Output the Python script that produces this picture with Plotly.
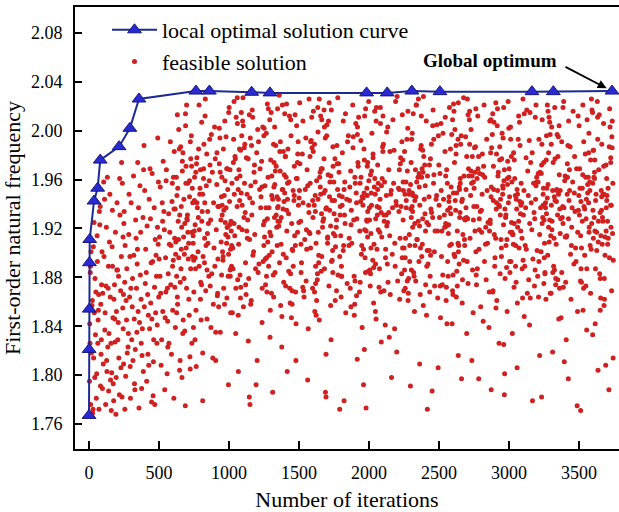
import plotly.graph_objects as go

# ---------------- data ----------------
# local optimal solution curve (iteration, first-order natural frequency)
opt_iter = [0, 1, 2, 3, 5, 36, 62, 80, 215, 292, 357, 764, 860, 1162, 1293,
            1983, 2130, 2306, 2507, 3164, 3317, 3736]
opt_freq = [1.767, 1.821, 1.854, 1.892, 1.911, 1.9425, 1.953, 1.976, 1.987,
            2.002, 2.026, 2.0325, 2.0325, 2.0315, 2.031, 2.031, 2.031,
            2.0325, 2.032, 2.032, 2.032, 2.0325]

# feasible solutions
feasible_iter = [
    5, 31, 52, 77, 98, 126, 149, 173, 204, 238,
    12, 24, 60, 88, 111, 137, 162, 189, 217, 244,
    9, 41, 67, 93, 119, 143, 168, 196, 221, 247,
    17, 36, 71, 84, 107, 131, 157, 182, 209, 231,
    3, 46, 58, 102, 115, 140, 165, 192, 226, 249,
    21, 29, 63, 80, 124, 152, 176, 200, 213, 236,
    14, 49, 74, 96, 128, 146, 171, 186, 219, 241,
    7, 38, 55, 90, 113, 134, 159, 199, 228, 243,
    26, 43, 69, 86, 105, 139, 178, 194, 211, 233,
    10, 33, 65, 82, 121, 154, 167, 184, 206, 246,
    255, 279, 301, 328, 346, 372, 398, 421, 455, 487,
    262, 284, 309, 333, 357, 381, 409, 436, 462, 494,
    251, 290, 314, 339, 364, 388, 415, 441, 470, 482,
    268, 296, 320, 342, 369, 393, 427, 449, 466, 498,
    258, 286, 305, 351, 376, 402, 430, 458, 476, 491,
    273, 299, 318, 336, 361, 386, 412, 444, 473, 485,
    265, 281, 325, 348, 367, 395, 419, 439, 460, 496,
    256, 292, 311, 331, 354, 379, 405, 433, 451, 479,
    270, 294, 323, 344, 373, 390, 424, 447, 468, 489,
    504, 527, 553, 571, 602, 628, 651, 679, 703, 731,
    512, 535, 558, 586, 609, 633, 662, 688, 716, 744,
    509, 541, 566, 593, 617, 641, 667, 694, 721, 738,
    519, 547, 577, 598, 624, 647, 673, 699, 727, 749,
    501, 530, 562, 581, 613, 637, 657, 684, 709, 735,
    523, 549, 569, 589, 620, 645, 670, 692, 713, 741,
    515, 538, 560, 595, 606, 631, 659, 681, 718, 726,
    507, 544, 574, 584, 616, 639, 664, 697, 706, 746,
    526, 551, 563, 597, 626, 652, 676, 690, 723, 733,
    754, 779, 801, 829, 853, 877, 902, 926, 951, 983,
    761, 786, 808, 834, 859, 884, 909, 935, 962, 991,
    757, 791, 815, 841, 866, 890, 917, 942, 970, 996,
    768, 796, 821, 846, 871, 897, 921, 947, 977, 987,
    752, 774, 812, 838, 862, 893, 913, 938, 966, 994,
    764, 783, 806, 825, 850, 881, 905, 931, 957, 979,
    771, 798, 818, 843, 869, 888, 914, 944, 968, 998,
    759, 788, 804, 831, 856, 874, 928, 949, 973, 985,
    766, 793, 826, 848, 864, 899, 919, 954, 960, 989,
    1004, 1029, 1051, 1079, 1103, 1127, 1152, 1176, 1201, 1233,
    1011, 1036, 1058, 1084, 1109, 1134, 1159, 1187, 1214, 1241,
    1007, 1041, 1066, 1091, 1116, 1141, 1166, 1193, 1219, 1246,
    1018, 1045, 1072, 1097, 1122, 1148, 1171, 1198, 1226, 1237,
    1001, 1024, 1055, 1069, 1113, 1138, 1163, 1182, 1208, 1229,
    1014, 1033, 1062, 1087, 1100, 1131, 1155, 1179, 1205, 1244,
    1021, 1048, 1075, 1094, 1119, 1145, 1168, 1190, 1222, 1249,
    1009, 1038, 1060, 1082, 1107, 1124, 1150, 1184, 1211, 1235,
    1266, 1277, 1303, 1327, 1361, 1386, 1411, 1446, 1467, 1490,
    1254, 1279, 1301, 1329, 1353, 1377, 1402, 1426, 1451, 1483,
    1261, 1286, 1308, 1334, 1359, 1384, 1409, 1437, 1464, 1491,
    1257, 1291, 1316, 1341, 1366, 1391, 1416, 1443, 1469, 1496,
    1268, 1295, 1322, 1347, 1372, 1398, 1421, 1448, 1476, 1487,
    1251, 1274, 1305, 1319, 1363, 1388, 1413, 1432, 1458, 1479,
    1264, 1283, 1312, 1337, 1350, 1381, 1405, 1429, 1455, 1494,
    1271, 1298, 1325, 1344, 1369, 1395, 1418, 1440, 1472, 1499,
    1503, 1527, 1549, 1571, 1603, 1619, 1645, 1679, 1704, 1727,
    1515, 1528, 1553, 1580, 1611, 1636, 1661, 1693, 1718, 1740,
    1505, 1529, 1551, 1578, 1602, 1626, 1652, 1676, 1700, 1733,
    1512, 1536, 1558, 1583, 1609, 1634, 1659, 1687, 1714, 1742,
    1507, 1541, 1566, 1591, 1616, 1641, 1666, 1693, 1719, 1746,
    1518, 1545, 1572, 1597, 1622, 1648, 1671, 1698, 1726, 1737,
    1501, 1524, 1555, 1569, 1613, 1638, 1663, 1682, 1708, 1729,
    1514, 1533, 1562, 1587, 1600, 1631, 1655, 1679, 1705, 1744,
    1771, 1798, 1825, 1844, 1869, 1895, 1918, 1940, 1972, 1999,
    1759, 1788, 1810, 1832, 1857, 1874, 1900, 1934, 1961, 1985,
    1766, 1777, 1803, 1827, 1861, 1886, 1911, 1946, 1967, 1990,
    1754, 1779, 1801, 1829, 1853, 1877, 1902, 1926, 1951, 1983,
    1761, 1786, 1808, 1834, 1859, 1884, 1909, 1937, 1964, 1991,
    1757, 1791, 1816, 1841, 1866, 1891, 1916, 1943, 1969, 1996,
    1768, 1795, 1822, 1847, 1872, 1898, 1921, 1948, 1976, 1987,
    1751, 1774, 1805, 1819, 1863, 1888, 1913, 1932, 1958, 1979,
    2014, 2033, 2062, 2087, 2100, 2131, 2155, 2179, 2205, 2244,
    2021, 2048, 2075, 2094, 2119, 2145, 2168, 2190, 2222, 2249,
    2009, 2038, 2060, 2082, 2107, 2124, 2150, 2184, 2211, 2235,
    2016, 2027, 2053, 2077, 2111, 2136, 2161, 2196, 2217, 2240,
    2004, 2029, 2051, 2079, 2103, 2127, 2152, 2176, 2201, 2233,
    2011, 2036, 2058, 2084, 2109, 2134, 2159, 2187, 2214, 2241,
    2007, 2041, 2066, 2091, 2116, 2141, 2166, 2193, 2219, 2246,
    2018, 2045, 2072, 2097, 2122, 2148, 2171, 2198, 2226, 2237,
    2251, 2274, 2305, 2319, 2363, 2388, 2413, 2432, 2458, 2479,
    2264, 2283, 2312, 2337, 2350, 2381, 2405, 2429, 2455, 2494,
    2271, 2298, 2325, 2344, 2369, 2395, 2418, 2440, 2472, 2499,
    2259, 2288, 2310, 2332, 2357, 2374, 2400, 2434, 2461, 2485,
    2266, 2277, 2303, 2327, 2361, 2386, 2411, 2446, 2467, 2490,
    2254, 2279, 2301, 2329, 2353, 2377, 2402, 2426, 2451, 2483,
    2261, 2286, 2308, 2334, 2359, 2384, 2409, 2437, 2464, 2491,
    2257, 2291, 2316, 2341, 2366, 2391, 2416, 2443, 2469, 2496,
    2507, 2541, 2566, 2591, 2616, 2641, 2666, 2693, 2719, 2746,
    2518, 2545, 2572, 2597, 2622, 2648, 2671, 2698, 2726, 2737,
    2501, 2524, 2555, 2569, 2613, 2638, 2663, 2682, 2708, 2729,
    2514, 2533, 2562, 2587, 2600, 2631, 2655, 2679, 2705, 2744,
    2521, 2548, 2575, 2594, 2619, 2645, 2668, 2690, 2722, 2749,
    2509, 2538, 2560, 2582, 2607, 2624, 2650, 2684, 2711, 2735,
    2516, 2527, 2553, 2577, 2611, 2636, 2661, 2696, 2717, 2740,
    2504, 2529, 2551, 2579, 2603, 2627, 2652, 2676, 2701, 2733,
    2761, 2786, 2808, 2834, 2859, 2884, 2909, 2937, 2964, 2991,
    2757, 2791, 2816, 2841, 2866, 2891, 2916, 2943, 2969, 2996,
    2768, 2795, 2822, 2847, 2872, 2898, 2921, 2948, 2976, 2987,
    2751, 2774, 2805, 2819, 2863, 2888, 2913, 2932, 2958, 2979,
    2764, 2783, 2812, 2837, 2850, 2881, 2905, 2929, 2955, 2994,
    2771, 2798, 2825, 2844, 2869, 2895, 2918, 2940, 2972, 2999,
    2759, 2788, 2810, 2832, 2857, 2874, 2900, 2934, 2961, 2985,
    2766, 2777, 2803, 2827, 2861, 2886, 2911, 2946, 2967, 2990,
    3004, 3029, 3051, 3079, 3103, 3127, 3152, 3176, 3201, 3233,
    3011, 3036, 3058, 3084, 3109, 3134, 3159, 3187, 3214, 3241,
    3007, 3041, 3066, 3091, 3116, 3141, 3166, 3193, 3219, 3246,
    3018, 3045, 3072, 3097, 3122, 3148, 3171, 3198, 3226, 3237,
    3001, 3024, 3055, 3069, 3113, 3138, 3163, 3182, 3208, 3229,
    3014, 3033, 3062, 3087, 3100, 3131, 3155, 3179, 3205, 3244,
    3021, 3048, 3075, 3094, 3119, 3145, 3168, 3190, 3222, 3249,
    3009, 3038, 3060, 3082, 3107, 3124, 3150, 3184, 3211, 3235,
    3266, 3277, 3303, 3327, 3361, 3386, 3411, 3446, 3467, 3490,
    3254, 3279, 3301, 3329, 3353, 3377, 3402, 3426, 3451, 3483,
    3261, 3286, 3308, 3334, 3359, 3384, 3409, 3437, 3464, 3491,
    3257, 3291, 3316, 3341, 3366, 3391, 3416, 3443, 3469, 3496,
    3268, 3295, 3322, 3347, 3372, 3398, 3421, 3448, 3476, 3487,
    3251, 3274, 3305, 3319, 3363, 3388, 3413, 3432, 3458, 3479,
    3264, 3283, 3312, 3337, 3350, 3381, 3405, 3429, 3455, 3494,
    3271, 3298, 3325, 3344, 3369, 3395, 3418, 3440, 3472, 3499,
    3503, 3527, 3549, 3571, 3603, 3619, 3645, 3679, 3704, 3727,
    3515, 3528, 3553, 3580, 3611, 3636, 3661, 3693, 3718, 3740,
    3505, 3529, 3551, 3578, 3602, 3626, 3652, 3676, 3700, 3733,
    3512, 3536, 3558, 3583, 3609, 3634, 3659, 3687, 3714, 3742,
    3507, 3541, 3566, 3591, 3616, 3641, 3666, 3695, 3719, 3745,
    3518, 3545, 3572, 3597, 3622, 3648, 3671, 3698, 3726, 3737,
    3501, 3524, 3555, 3569, 3613, 3638, 3663, 3682, 3708, 3729,
    3514, 3533, 3562, 3587, 3600, 3631, 3655, 3680, 3705, 3744,
    812, 1067, 1293, 1478, 1689, 1822, 2088, 2296, 2417, 2638,
    905, 1145, 1378, 1562, 1791, 1967, 2183, 2362, 2557, 2784,
    2873, 2962, 3058, 3147, 3233, 3312, 3424, 3512, 3598, 3691,
    1012, 1236, 1451, 1623, 1871, 2046, 2511, 2907, 3356, 3652,
    634, 958, 1281, 1617, 1923, 2254, 2571, 2893, 3219, 3548,
    712, 1043, 1362, 1688, 2011, 2339, 2652, 2978, 3302, 3627,
    655, 987, 1306, 1641, 1969, 2287, 2608, 2934, 3261, 3589,
    781, 1102, 1427, 1749, 2073, 2398, 2719, 3047, 3366, 3694,
    603, 921, 1249, 1572, 1894, 2217, 2543, 2866, 3188, 3511,
    748, 1071, 1393, 1716, 2042, 2368, 2687, 3012, 3334, 3662,
    689, 1012, 1337, 1659, 1986, 2309, 2631, 2955, 3283, 3604,
    827, 1156, 1474, 1802, 2126, 2447, 2772, 3093, 3417, 3738,
    667, 993, 1318, 1636, 1961, 2281, 2604, 2928, 3252, 3577,
    734, 1059, 1381, 1704, 2029, 2352, 2676, 2999, 3324, 3651,
    619, 946, 1268, 1593, 1911, 2238, 2562, 2884, 3209, 3534,
    796, 1118, 1441, 1768, 2089, 2413, 2738, 3061, 3386, 3709,
    641, 972, 1292, 1619, 1942, 2266, 2589, 2911, 3237, 3562,
    758, 1083, 1408, 1731, 2057, 2379, 2703, 3026, 3349, 3677,
    706, 1027, 1351, 1677, 1998, 2322, 2647, 2971, 3294, 3618,
    843, 1169, 1489, 1816, 2141, 2463, 2788, 3109, 3433, 3731,
    678, 1004, 1326, 1651, 1975, 2297, 2622, 2946, 3268, 3593,
    724, 1049, 1373, 1696, 2018, 2343, 2667, 2989, 3313, 3639,
    612, 937, 1259, 1584, 1906, 2229, 2553, 2876, 3198, 3524,
    771, 1094, 1418, 1742, 2066, 2389, 2713, 3037, 3358, 3686,
    648, 979, 1299, 1626, 1951, 2273, 2597, 2919, 3244, 3569,
    739, 1066, 1388, 1711, 2034, 2358, 2682, 3005, 3329, 3657,
    697, 1019, 1343, 1668, 1991, 2315, 2639, 2962, 3287, 3611,
    812, 1137, 1459, 1783, 2107, 2431, 2754, 3078, 3401, 3722,
    626, 951, 1274, 1598, 1917, 2244, 2567, 2889, 3214, 3541,
    763, 1088, 1412, 1737, 2062, 2384, 2708, 3031, 3354, 3681,
    684, 1008, 1331, 1655, 1980, 2302, 2626, 2951, 3274, 3598,
    805, 1129, 1452, 1776, 2099, 2422, 2746, 3069, 3393, 3716,
    659, 984, 1312, 1632, 1957, 2278, 2601, 2924, 3248, 3573,
    718, 1036, 1367, 1692, 2014, 2335, 2659, 2983, 3307, 3633,
    607, 931, 1254, 1579, 1899, 2224, 2548, 2871, 3193, 3518,
    787, 1111, 1434, 1758, 2081, 2404, 2729, 3052, 3377, 3699,
    671, 997, 1321, 1645, 1965, 2291, 2614, 2938, 3257, 3583,
    744, 1076, 1398, 1721, 2047, 2373, 2693, 3017, 3339, 3668,
    693, 1016, 1347, 1663, 1988, 2312, 2636, 2958, 3279, 3607,
    836, 1161, 1481, 1809, 2133, 2455, 2779, 3101, 3425, 3735,
    631, 963, 1287, 1611, 1936, 2259, 2584, 2906, 3231, 3556,
    753, 1079, 1403, 1726, 2051, 2376, 2698, 3021, 3344, 3672,
    702, 1031, 1356, 1682, 2003, 2327, 2644, 2967, 3291, 3614,
    819, 1147, 1466, 1794, 2118, 2439, 2763, 3085, 3409, 3727,
]

feasible_freq = [
    1.842, 1.905, 1.781, 1.923, 1.867, 1.812, 1.948, 1.793, 1.886, 1.957,
    1.776, 1.861, 1.893, 1.829, 1.944, 1.871, 1.802, 1.917, 1.784, 1.838,
    1.884, 1.798, 1.853, 1.901, 1.776, 1.834, 1.889, 1.852, 1.931, 1.809,
    1.818, 1.925, 1.772, 1.858, 1.897, 1.962, 1.826, 1.874, 1.843, 1.897,
    1.795, 1.833, 1.914, 1.809, 1.851, 1.787, 1.905, 1.768, 1.869, 1.924,
    1.857, 1.772, 1.826, 1.938, 1.921, 1.864, 1.779, 1.941, 1.814, 1.782,
    1.901, 1.868, 1.934, 1.789, 1.803, 1.909, 1.847, 1.827, 1.961, 1.855,
    1.826, 1.851, 1.801, 1.874, 1.837, 1.823, 1.771, 1.886, 1.806, 1.913,
    1.769, 1.879, 1.866, 1.817, 1.958, 1.889, 1.862, 1.798, 1.881, 1.974,
    1.889, 1.814, 1.845, 1.791, 1.873, 1.796, 1.935, 1.846, 1.829, 1.866,
    1.876, 1.823, 1.941, 1.788, 1.903, 1.862, 1.951, 1.817, 1.893, 1.841,
    1.799, 1.915, 1.856, 1.927, 1.773, 1.838, 1.884, 1.969, 1.829, 1.907,
    1.934, 1.864, 1.812, 1.871, 1.955, 1.803, 1.922, 1.859, 1.776, 1.881,
    1.845, 1.781, 1.898, 1.835, 1.917, 1.988, 1.808, 1.846, 1.937, 1.864,
    1.906, 1.948, 1.829, 1.852, 1.789, 1.875, 1.944, 1.783, 1.851, 1.994,
    1.818, 1.871, 1.963, 1.912, 1.843, 1.929, 1.795, 1.892, 1.911, 1.826,
    1.861, 1.834, 1.793, 1.974, 1.882, 1.856, 1.866, 1.928, 1.811, 1.958,
    1.772, 1.897, 1.879, 1.821, 1.937, 1.816, 1.903, 1.838, 1.965, 1.898,
    1.887, 1.807, 1.846, 1.891, 1.826, 1.968, 1.849, 1.778, 1.872, 1.921,
    1.913, 1.852, 1.968, 1.826, 1.894, 1.947, 1.812, 1.879, 1.931, 1.996,
    1.867, 1.934, 1.801, 1.906, 1.983, 1.858, 1.921, 1.775, 1.849, 1.908,
    1.954, 1.788, 1.883, 1.942, 1.839, 1.896, 1.967, 1.904, 1.815, 1.953,
    1.829, 1.896, 1.917, 1.853, 1.962, 1.804, 1.845, 1.928, 1.977, 1.868,
    1.895, 1.975, 1.844, 1.991, 1.872, 1.926, 1.887, 1.836, 1.895, 1.826,
    1.941, 1.868, 1.932, 1.817, 1.909, 1.985, 1.834, 1.957, 1.862, 1.941,
    1.808, 1.919, 1.871, 1.957, 1.781, 1.864, 1.938, 1.899, 1.946, 1.887,
    1.881, 1.847, 1.907, 1.874, 1.936, 1.911, 1.798, 1.871, 1.917, 1.839,
    1.926, 1.959, 1.823, 1.889, 1.851, 1.876, 1.913, 2.004, 1.805, 1.971,
    1.962, 1.901, 1.845, 2.012, 1.924, 1.883, 1.977, 1.856, 1.939, 1.908,
    1.887, 2.021, 1.934, 1.869, 1.959, 1.814, 1.919, 1.994, 1.871, 1.952,
    1.829, 1.948, 1.897, 1.981, 1.873, 1.941, 1.865, 1.927, 2.008, 1.792,
    1.973, 1.862, 1.989, 1.916, 1.839, 2.003, 1.895, 1.882, 1.915, 1.969,
    1.918, 1.937, 1.779, 1.955, 1.993, 1.904, 1.956, 1.835, 1.947, 1.881,
    1.853, 1.985, 1.926, 1.892, 1.908, 1.966, 1.812, 1.973, 1.894, 1.937,
    1.941, 1.876, 1.961, 1.846, 1.927, 1.858, 1.982, 1.909, 1.858, 2.015,
    1.896, 1.919, 1.874, 2.026, 1.881, 1.997, 1.938, 1.962, 1.925, 1.863,
    1.807, 1.953, 1.912, 1.934, 1.972, 1.889, 1.867, 1.901, 1.985, 1.921,
    1.942, 1.887, 2.011, 1.963, 1.856, 1.918, 1.994, 1.901, 1.812, 1.975,
    1.903, 2.024, 1.938, 1.872, 1.986, 1.927, 1.861, 1.958, 1.891, 2.003,
    1.968, 1.914, 1.849, 1.996, 1.933, 1.879, 2.017, 1.792, 1.952, 1.923,
    1.889, 1.977, 1.921, 2.008, 1.866, 1.945, 1.898, 1.982, 1.937, 1.871,
    2.019, 1.851, 1.961, 1.907, 1.989, 1.828, 1.931, 1.972, 1.884, 1.946,
    1.926, 1.993, 1.878, 1.949, 2.027, 1.912, 1.858, 1.966, 2.001, 1.893,
    1.957, 1.834, 1.985, 1.919, 1.874, 2.013, 1.941, 1.887, 1.969, 1.906,
    1.881, 1.948, 2.006, 1.863, 1.929, 1.978, 1.776, 1.915, 1.991, 1.954,
    1.998, 1.909, 1.867, 1.956, 1.892, 1.936, 2.022, 1.847, 1.971, 1.917,
    1.913, 1.962, 2.015, 1.884, 1.944, 1.823, 1.979, 1.932, 1.869, 2.004,
    1.874, 1.937, 1.901, 1.988, 2.029, 1.952, 1.896, 1.859, 1.943, 1.981,
    1.955, 2.009, 1.882, 1.921, 1.967, 1.876, 1.803, 1.996, 1.914, 1.939,
    1.896, 1.853, 1.974, 2.018, 1.907, 1.949, 1.985, 1.924, 1.868, 1.961,
    2.002, 1.928, 1.947, 1.864, 1.983, 1.899, 1.918, 2.012, 1.951, 1.842,
    1.937, 1.889, 1.786, 1.971, 1.926, 2.021, 1.873, 1.958, 1.902, 1.991,
    1.868, 1.976, 1.929, 1.906, 1.857, 1.964, 1.944, 1.883, 2.013, 1.925,
    1.951, 1.872, 1.994, 1.933, 2.016, 1.889, 1.845, 1.977, 1.912, 1.963,
    1.884, 2.008, 1.919, 1.957, 1.868, 1.999, 1.932, 1.817, 1.946, 1.902,
    2.023, 1.941, 1.877, 1.916, 1.983, 1.861, 1.954, 1.928, 2.005, 1.893,
    1.926, 1.864, 1.968, 1.904, 1.939, 2.019, 1.885, 1.951, 1.873, 1.987,
    1.973, 1.911, 1.838, 2.011, 1.947, 1.898, 1.969, 1.782, 1.935, 1.916,
    1.892, 1.952, 2.026, 1.871, 1.908, 1.962, 1.926, 1.996, 1.857, 1.943,
    1.945, 1.981, 1.903, 1.939, 1.852, 1.917, 2.009, 1.887, 1.964, 1.829,
    1.907, 1.869, 1.955, 1.992, 1.929, 1.878, 1.948, 2.017, 1.913, 1.971,
    1.988, 1.914, 1.931, 1.875, 1.967, 1.849, 2.003, 1.942, 1.896, 1.959,
    1.861, 1.947, 1.982, 2.014, 1.906, 1.935, 1.877, 1.918, 1.792, 1.953,
    1.921, 2.027, 1.889, 1.958, 1.943, 1.986, 1.865, 1.899, 1.976, 1.913,
    1.943, 1.882, 1.864, 1.924, 1.996, 1.908, 1.957, 2.011, 1.839, 1.927,
    1.905, 1.966, 1.939, 1.851, 1.912, 2.021, 1.949, 1.876, 1.985, 1.934,
    1.977, 1.897, 2.008, 1.944, 1.871, 1.927, 1.813, 1.962, 1.919, 1.885,
    1.869, 1.938, 1.952, 1.991, 1.923, 1.858, 1.974, 1.906, 2.018, 1.947,
    1.932, 1.973, 1.881, 1.906, 1.954, 1.995, 1.928, 1.868, 1.945, 1.773,
    1.916, 1.859, 1.972, 1.933, 2.012, 1.891, 1.948, 1.984, 1.877, 1.927,
    1.998, 1.928, 1.887, 1.961, 1.903, 1.831, 1.937, 2.024, 1.912, 1.869,
    1.873, 1.954, 1.931, 2.006, 1.869, 1.947, 1.983, 1.908, 1.953, 1.991,
    1.949, 1.894, 2.019, 1.917, 1.958, 1.876, 1.798, 1.939, 1.968, 1.904,
    1.927, 1.981, 1.846, 1.944, 1.989, 1.922, 1.866, 1.957, 2.028, 1.883,
    1.964, 1.907, 1.938, 1.868, 1.926, 2.003, 1.951, 1.889, 1.934, 1.976,
    1.886, 2.016, 1.957, 1.913, 1.841, 1.968, 1.899, 1.942, 1.862, 1.951,
    1.939, 1.948, 1.872, 1.987, 1.931, 1.914, 2.009, 1.819, 1.978, 1.896,
    1.904, 1.967, 1.993, 1.884, 1.939, 1.857, 1.925, 1.972, 2.017, 1.944,
    1.958, 1.879, 1.921, 2.021, 1.962, 1.907, 1.874, 1.946, 1.929, 1.806,
    1.993, 1.936, 1.852, 1.911, 1.985, 1.944, 1.963, 1.898, 1.918, 1.972,
    1.871, 1.915, 1.949, 1.968, 1.893, 2.012, 1.932, 1.868, 1.957, 2.005,
    1.937, 2.002, 1.886, 1.943, 1.922, 1.966, 1.849, 1.989, 1.901, 1.918,
    1.983, 1.861, 1.974, 1.906, 2.026, 1.897, 1.955, 1.923, 1.787, 1.947,
    1.912, 1.951, 1.938, 1.877, 1.954, 1.928, 2.008, 1.881, 1.964, 1.863,
    1.948, 1.893, 2.014, 1.958, 1.866, 1.979, 1.902, 1.936, 1.873, 1.996,
    1.965, 1.921, 1.881, 1.997, 1.943, 1.906, 1.859, 1.952, 1.989, 1.927,
    1.897, 2.011, 1.946, 1.869, 1.981, 1.929, 1.915, 1.834, 1.947, 1.963,
    1.939, 1.874, 1.968, 1.923, 1.897, 2.023, 1.942, 1.911, 1.875, 2.001,
    2.006, 1.944, 1.893, 1.954, 1.866, 1.918, 1.989, 1.963, 1.928, 1.851,
    1.918, 1.963, 2.019, 1.842, 1.935, 1.954, 1.878, 1.995, 1.912, 1.938,
    1.873, 1.931, 1.957, 1.985, 2.016, 1.864, 1.933, 1.906, 1.969, 1.812,
    1.951, 1.882, 1.922, 1.906, 1.974, 1.993, 1.797, 1.929, 2.009, 1.886,
    1.929, 1.998, 1.861, 1.937, 1.949, 1.885, 1.961, 2.027, 1.893, 1.957,
    1.987, 1.903, 1.948, 1.921, 1.868, 2.014, 1.936, 1.883, 1.959, 1.975,
    1.918, 1.965, 1.844, 1.993, 1.927, 1.952, 2.004, 1.911, 1.801, 1.941,
    1.874, 1.934, 2.021, 1.908, 1.946, 1.889, 1.963, 1.977, 1.929, 1.852,
    1.953, 1.887, 1.917, 1.971, 2.008, 1.943, 1.861, 1.938, 1.994, 1.906,
    1.901, 1.979, 1.964, 1.878, 1.925, 1.997, 1.912, 1.826, 1.948, 2.024,
    1.938, 1.856, 1.893, 1.951, 1.982, 1.915, 2.018, 1.944, 1.879, 1.962,
    1.966, 1.928, 1.981, 1.907, 1.839, 1.954, 1.896, 1.987, 1.923, 1.911,
    1.882, 2.012, 1.935, 1.962, 1.918, 1.869, 1.941, 1.904, 1.784, 1.956,
    1.946, 1.915, 1.876, 1.988, 1.931, 2.017, 1.863, 1.957, 1.902, 1.972,
    2.003, 1.872, 1.952, 1.918, 1.848, 1.967, 1.941, 1.886, 1.993, 1.929,
    1.884, 1.961, 1.993, 1.941, 1.906, 1.878, 1.982, 2.021, 1.816, 1.953,
    1.925, 1.947, 1.904, 1.863, 1.978, 1.924, 1.895, 1.962, 1.937, 2.009,
    1.969, 1.834, 1.936, 2.012, 1.889, 1.947, 1.919, 1.873, 1.958, 1.901,
    1.893, 1.982, 1.921, 1.957, 2.026, 1.867, 1.974, 1.933, 1.881, 1.948,
    1.958, 1.906, 2.007, 1.887, 1.937, 1.992, 1.779, 1.944, 1.966, 1.875,
    1.917, 1.976, 1.859, 1.932, 1.951, 1.903, 2.015, 1.928, 1.864, 1.989,
    1.976, 1.898, 1.939, 2.019, 1.871, 1.924, 1.962, 1.906, 1.949, 1.852,
    1.908, 1.956, 1.867, 1.943, 1.995, 1.884, 1.913, 2.008, 1.937, 1.969,
    1.941, 2.011, 1.926, 1.874, 1.964, 1.938, 1.829, 1.987, 1.891, 1.917,
    1.883, 1.927, 1.974, 1.952, 1.916, 2.024, 1.948, 1.862, 1.979, 1.935,
    1.996, 1.867, 1.912, 1.931, 1.847, 1.959, 1.988, 1.921, 1.904, 1.775,
    1.927, 1.945, 2.003, 1.889, 1.936, 1.872, 1.914, 1.968, 2.016, 1.893,
    1.862, 1.982, 1.951, 1.907, 1.979, 1.929, 1.876, 1.943, 1.958, 2.012,
    1.953, 1.914, 1.886, 1.997, 1.928, 1.811, 1.962, 1.899, 1.934, 1.947,
    1.931, 1.964, 1.873, 1.998, 1.912, 1.943, 2.013, 1.857, 1.926, 1.978,
    1.887, 2.021, 1.944, 1.906, 1.961, 1.804, 1.935, 1.972, 1.896, 1.916,
    1.969, 1.853, 1.928, 1.951, 1.984, 1.917, 1.879, 2.006, 1.947, 1.869,
    1.914, 1.938, 2.009, 1.867, 1.929, 1.993, 1.951, 1.913, 1.788, 1.957,
    1.953, 1.898, 1.962, 1.924, 1.842, 1.968, 1.907, 1.937, 2.018, 1.894,
    1.876, 1.981, 1.917, 2.015, 1.948, 1.883, 1.926, 1.961, 1.939, 1.986,
    2.004, 1.926, 1.837, 1.941, 1.976, 1.909, 1.989, 1.862, 1.953, 1.921,
    1.942, 1.871, 1.956, 1.903, 1.935, 2.024, 1.863, 1.948, 1.907, 1.814,
    1.818, 1.803, 1.831, 1.812, 1.786, 1.779, 1.827, 1.791, 1.772, 1.816,
    1.835, 1.782, 1.848, 1.796, 1.772, 1.821, 1.838, 1.809, 1.842, 1.797,
    1.788, 1.825, 1.806, 1.841, 1.782, 1.819, 1.797, 1.771, 1.833, 1.808,
    1.851, 1.843, 1.858, 1.849, 1.856, 1.852, 1.847, 1.855, 1.846, 1.853,
    1.953, 1.897, 2.018, 1.934, 1.971, 1.886, 1.942, 2.007, 1.915, 1.962,
    1.908, 1.979, 1.926, 1.994, 1.883, 2.021, 1.957, 1.931, 1.989, 1.902,
    1.987, 1.921, 1.963, 1.892, 2.012, 1.948, 1.899, 1.976, 1.937, 2.026,
    1.929, 2.004, 1.885, 1.958, 1.937, 1.972, 2.016, 1.889, 1.951, 1.918,
    1.962, 1.938, 1.996, 1.917, 1.881, 1.952, 1.983, 1.924, 2.011, 1.877,
    1.894, 1.968, 1.942, 2.023, 1.961, 1.904, 1.927, 1.993, 1.879, 1.946,
    2.014, 1.887, 1.931, 1.969, 1.926, 1.998, 1.873, 1.955, 1.921, 1.984,
    1.941, 1.955, 1.906, 1.881, 1.999, 1.933, 1.961, 1.912, 1.973, 2.008,
    1.975, 1.913, 1.989, 1.944, 1.903, 1.867, 2.022, 1.939, 1.896, 1.958,
    1.917, 2.027, 1.952, 1.908, 1.978, 1.926, 1.894, 2.002, 1.946, 1.933,
    1.899, 1.946, 1.881, 1.986, 1.941, 2.013, 1.935, 1.868, 1.965, 1.991,
    1.968, 1.892, 2.009, 1.927, 1.955, 1.889, 1.979, 1.948, 2.019, 1.912,
    2.001, 1.959, 1.917, 1.875, 1.992, 1.943, 1.907, 1.981, 1.924, 1.949,
    1.923, 1.984, 1.962, 2.017, 1.903, 1.969, 2.026, 1.915, 1.878, 1.971,
    1.957, 1.904, 1.938, 1.949, 2.024, 1.881, 1.952, 1.936, 1.997, 1.887,
    1.886, 2.011, 1.974, 1.902, 1.933, 1.993, 1.919, 2.014, 1.951, 1.939,
    1.944, 1.923, 2.003, 1.966, 1.884, 1.956, 1.988, 1.897, 1.932, 2.017,
    1.991, 1.871, 1.929, 1.937, 1.967, 1.911, 1.944, 1.961, 1.884, 1.926,
    1.912, 1.966, 1.895, 1.991, 2.006, 1.938, 1.872, 1.986, 1.958, 1.953,
    1.978, 1.939, 1.957, 1.884, 1.919, 2.028, 1.963, 1.924, 2.004, 1.898,
    1.931, 1.995, 1.914, 1.959, 1.946, 1.877, 2.009, 1.951, 1.939, 1.982,
    1.897, 1.952, 1.983, 2.008, 1.888, 1.965, 1.928, 1.893, 1.977, 1.914,
    2.021, 1.906, 1.946, 1.921, 1.974, 1.947, 1.901, 2.019, 1.909, 1.966,
    1.948, 1.977, 1.889, 1.973, 1.931, 1.902, 1.986, 1.942, 1.963, 2.003,
    1.881, 1.931, 2.022, 1.943, 1.997, 1.958, 1.916, 1.971, 1.893, 1.936,
    1.966, 2.015, 1.935, 1.894, 1.952, 1.984, 2.013, 1.907, 1.948, 1.879,
    1.924, 1.886, 1.967, 2.012, 1.918, 1.929, 1.949, 1.998, 2.021, 1.957,
    2.007, 1.948, 1.903, 1.952, 1.983, 1.891, 1.958, 1.926, 1.937, 1.987,
    1.903, 1.969, 1.944, 1.883, 1.939, 2.016, 1.882, 1.966, 1.974, 1.921,
    1.959, 1.924, 1.991, 1.936, 1.904, 1.946, 1.996, 1.888, 1.919, 2.011,
    1.936, 2.002, 1.926, 1.979, 1.962, 1.973, 1.924, 2.009, 1.955, 1.904,
    1.889, 1.957, 1.871, 1.914, 2.019, 1.918, 1.967, 1.944, 1.991, 1.943,
    1.982, 1.899, 1.954, 2.026, 1.949, 1.906, 2.001, 1.931, 1.884, 1.976,
    1.914, 1.943, 2.014, 1.958, 1.891, 1.988, 1.937, 1.979, 1.942, 1.929,
    1.971, 1.918, 1.937, 1.897, 1.971, 1.934, 1.908, 1.953, 2.016, 1.962,
    1.906, 1.988, 1.961, 1.946, 1.925, 2.004, 1.969, 1.894, 1.928, 1.995,
    2.013, 1.935, 1.898, 1.989, 1.957, 1.896, 1.932, 2.023, 1.965, 1.887,
    1.943, 1.882, 1.979, 1.922, 2.008, 1.962, 1.979, 1.917, 1.951, 1.948,
    1.927, 1.974, 1.922, 2.003, 1.937, 1.924, 1.891, 1.968, 2.007, 1.918,
    1.969, 1.911, 1.947, 1.931, 1.896, 1.977, 2.018, 1.939, 1.913, 1.974,
]

x_ticks = [0, 500, 1000, 1500, 2000, 2500, 3000, 3500]
y_ticks = [1.76, 1.80, 1.84, 1.88, 1.92, 1.96, 2.00, 2.04, 2.08]
y_tick_labels = ["1.76", "1.80", "1.84", "1.88", "1.92", "1.96", "2.00", "2.04", "2.08"]

n = min(len(feasible_iter), len(feasible_freq))

FONT = "Liberation Serif, Times New Roman, serif"

fig = go.Figure()
fig.add_trace(go.Scatter(
    x=feasible_iter[:n], y=feasible_freq[:n], mode="markers",
    name="feasible solution", legendrank=2,
    marker=dict(size=5, color="#d02020", line=dict(width=0)),
))
fig.add_trace(go.Scatter(
    x=opt_iter, y=opt_freq, mode="lines+markers",
    name="local optimal solution curve", legendrank=1,
    line=dict(color="#1c2a96", width=2),
    marker=dict(symbol="triangle-up", size=12, color="#2a2ad2",
                line=dict(color="#16167a", width=1)),
))

fig.add_annotation(
    x=3736, y=2.0325, xref="x", yref="y", text="", showarrow=True,
    ax=-48, ay=-25, arrowhead=2, arrowsize=1, arrowwidth=1.8,
    arrowcolor="black", standoff=6,
)
fig.add_annotation(
    x=(490 - 75) / 544, y=1 - (60 - 7) / 442, xref="paper", yref="paper",
    xanchor="center", yanchor="middle",
    text="<b>Global optimum</b>", showarrow=False,
    font=dict(family=FONT, size=19, color="black"),
)

fig.update_layout(
    width=619, height=512,
    margin=dict(l=75, r=0, t=7, b=63),
    paper_bgcolor="white", plot_bgcolor="white",
    font=dict(family=FONT, size=18, color="black"),
    showlegend=True,
    legend=dict(
        x=(107 - 75) / 544, y=1 - (9 - 7) / 442, xanchor="left", yanchor="top",
        bgcolor="rgba(0,0,0,0)", borderwidth=0, itemwidth=45,
        font=dict(family=FONT, size=22, color="black"),
        tracegroupgap=0,
    ),
    xaxis=dict(
        range=[-100, 3786], tickmode="array", tickvals=x_ticks,
        ticks="inside", ticklen=8, tickwidth=1.5, tickcolor="black",
        showline=True, linecolor="black", linewidth=2, mirror=True,
        showgrid=False, zeroline=False,
        tickfont=dict(family=FONT, size=18, color="black"),
        ticklabelstandoff=6,
        title=dict(text="Number of iterations", standoff=12,
                   font=dict(family=FONT, size=22, color="black")),
    ),
    yaxis=dict(
        range=[1.7395, 2.1013], tickmode="array", tickvals=y_ticks,
        ticktext=y_tick_labels,
        ticks="inside", ticklen=7, tickwidth=1.5, tickcolor="black",
        showline=True, linecolor="black", linewidth=2, mirror=False,
        showgrid=False, zeroline=False,
        tickfont=dict(family=FONT, size=18, color="black"),
        ticklabelstandoff=7,
        title=dict(text="First-order natural frequency", standoff=6,
                   font=dict(family=FONT, size=22, color="black")),
    ),
)

fig.write_html("out.html")
